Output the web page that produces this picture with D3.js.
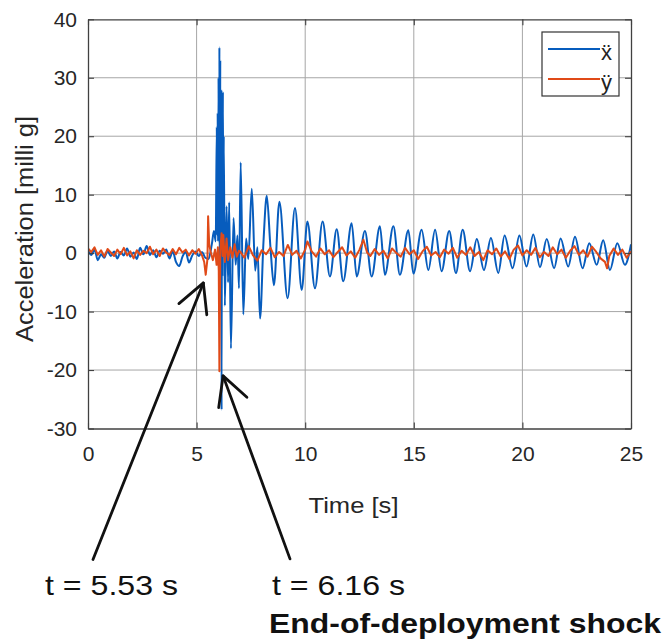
<!DOCTYPE html>
<html>
<head>
<meta charset="utf-8">
<script src="https://cdn.jsdelivr.net/npm/d3@7/dist/d3.min.js"></script>
<style>
  html, body { margin: 0; padding: 0; background: #fff; }
  svg { display: block; font-family: "Liberation Sans", Arial, Helvetica, sans-serif; }
</style>
</head>
<body>
<svg id="chart" width="666" height="642"></svg>
<script>
// ---------- DATA ----------
const xTickValues = [0, 5, 10, 15, 20, 25];
const yTickValues = [-30, -20, -10, 0, 10, 20, 30, 40];
const seriesNames = ["ẍ", "ÿ"];

// x-double-dot (blue): time [s] and acceleration [milli g]
const xddTime = [0,0.15,0.3,0.45,0.6,0.75,0.9,1.05,1.2,1.35,1.5,1.65,1.8,1.95,2.1,2.25,2.4,2.55,2.7,2.85,
  3.0,3.15,3.3,3.45,3.6,3.75,3.9,4.05,4.2,4.35,4.5,4.65,4.8,4.95,5.1,5.25,5.4,5.55,5.7,5.8,5.88,
  5.93,5.95,5.97,5.99,6.01,6.03,6.05,6.07,6.09,6.11,6.13,6.15,6.17,6.19,6.21,6.23,6.25,6.3,
  6.38,6.45,6.5,6.58,6.7,6.8,6.88,6.95,7.03,7.15,7.28,7.38,
  7.54,7.7,7.8,7.92,8.08,8.23,8.4,8.56,8.81,9.19,9.53,9.84,10.1,10.45,10.8,11.14,11.45,11.75,12.14,
  12.37,12.75,13.06,13.44,13.67,14.06,14.36,14.75,14.98,15.36,15.67,15.98,16.28,16.63,16.94,17.25,
  17.59,17.9,18.23,18.55,18.89,19.18,19.55,19.86,20.19,20.5,20.81,21.12,21.46,21.76,22.11,22.42,
  22.77,23.08,23.42,23.72,24.03,24.37,24.72,25];
const xddAcc = [0.5,-0.3,0.6,-1.2,-0.2,-0.8,0.4,-0.5,0.3,-0.9,0.2,-0.4,0.8,-0.6,0.1,-1.0,0.9,-0.2,1.2,-0.3,
  0.5,-0.7,0.4,-0.1,0.6,-0.9,0.3,-1.5,-2.2,-0.6,0.2,-1.6,-0.4,0.3,-0.5,0.2,-0.8,-1.0,1.5,3.8,2.0,
  21.6,3,24,2,30,4,35.2,-10,33,-5,28,-26.8,27,-4,27.6,2,20,-9,
  8.0,-5,8.7,-16.3,6.0,-2,3,-6,15.5,-10.5,2.5,-1,
  11.0,-3,1,-11.2,2,9.8,1,-5.5,8.8,-7.7,7.7,-6.3,5.4,-6.0,5.4,-4.0,4.1,-4.8,5.1,
  -4.0,3.8,-4.0,4.6,-3.7,4.6,-3.7,3.9,-3.5,4.0,-2.9,4.0,-3.1,3.8,-3.4,4.0,
  -3.1,2.4,-2.9,2.6,-3.4,3.0,-2.6,3.0,-2.3,3.2,-2.4,2.4,-2.6,2.5,-2.3,2.8,
  -2.6,1.7,-2.0,2.2,-2.9,1.7,-2.0,1.5];

// y-double-dot (orange): time [s] and acceleration [milli g]
const yddTime = [0,0.15,0.3,0.45,0.6,0.75,0.9,1.05,1.2,1.35,1.5,1.65,1.8,1.95,2.1,2.25,2.4,2.55,2.7,2.85,
  3.0,3.15,3.3,3.45,3.6,3.75,3.9,4.05,4.2,4.35,4.5,4.65,4.8,4.95,5.1,5.25,5.35,5.42,5.5,5.53,5.58,5.65,
  5.75,5.85,5.92,5.98,6.02,6.05,6.09,6.15,6.2,6.23,6.3,6.38,6.45,6.55,6.65,6.75,6.85,6.95,
  7.0,7.2,7.4,7.6,7.8,8.0,8.2,8.4,8.6,8.8,9.0,9.2,9.4,9.6,9.8,10.0,10.1,10.3,10.5,10.7,10.9,
  11.1,11.3,11.5,11.7,11.9,12.1,12.3,12.5,12.68,12.85,13.0,13.2,13.4,13.6,13.8,14.0,14.2,14.4,14.6,14.8,
  15.0,15.2,15.4,15.6,15.8,16.0,16.2,16.4,16.6,16.8,17.0,17.2,17.4,17.6,17.8,18.0,18.2,18.4,18.6,18.8,
  19.0,19.2,19.4,19.6,19.8,20.0,20.2,20.4,20.6,20.8,21.0,21.2,21.4,21.6,21.8,22.0,22.2,22.4,22.6,22.8,
  23.0,23.2,23.4,23.6,23.8,23.9,24.0,24.2,24.4,24.6,24.8,25.0];
const yddAcc = [0.8,0.2,1.0,-0.3,0.5,-0.6,0.7,0.1,-0.5,0.6,-0.2,0.9,-0.4,0.3,-0.9,0.5,-0.3,0.4,0.0,1.1,
  -0.2,0.6,-0.5,0.8,0.1,-0.3,0.7,-0.2,0.9,0.1,0.6,-0.4,0.5,-0.1,0.7,-0.4,-1.5,-3.7,-1.0,6.3,1.5,0.2,
  -1.2,0.6,-2.0,1.0,-3.0,-20.2,0.5,3.4,-0.5,3.1,-1.5,2.5,-1.2,1.0,-0.8,1.5,-0.6,0.4,
  0.3,-0.8,1.2,-0.4,-1.3,0.5,-0.2,0.9,-0.7,0.2,-0.5,1.4,-0.3,0.4,-0.9,0.6,2.0,0.3,-0.6,0.8,-0.2,
  0.5,-0.7,0.2,1.0,-0.4,0.3,-0.8,0.6,2.3,0.1,-0.5,0.7,-0.3,0.4,-0.9,0.8,0.0,-0.6,0.9,-0.2,
  0.5,-1.0,0.3,1.1,-0.4,0.2,-0.7,0.6,-0.1,0.9,-0.8,0.4,-0.3,1.0,-0.5,0.2,-1.2,0.5,-0.2,0.8,
  -0.6,0.3,-1.0,0.6,1.3,-0.4,0.5,-0.3,0.9,-0.7,0.2,-0.5,1.0,-0.2,0.6,-0.8,0.4,1.2,-0.3,0.5,
  -0.6,1.1,0.2,-0.9,-1.5,-2.6,-0.5,0.8,-0.3,0.6,-0.8,0.3];

// annotation arrows (data units: tip and tail)
const annotTips  = [[5.31, -5.1], [6.22, -21.0]];
const annotTails = [[0.23, -52.4], [9.30, -52.3]];
const annotLabels = ["t = 5.53 s", "t = 6.16 s"];
const annotTitle = "End-of-deployment shock";

// ---------- LAYOUT ----------
const svg = d3.select("#chart");
const W = 666, H = 642;
const plot = { left: 88, right: 631, top: 19.3, bottom: 428.5 };
const colors = ["#075cbd", "#e04a18"];

svg.append("rect").attr("width", W).attr("height", H).attr("fill", "#fff");

const x = d3.scaleLinear().domain([0, 25]).range([plot.left, plot.right]);
const y = d3.scaleLinear().domain([-30, 40]).range([plot.bottom, plot.top]);

// grid
const grid = svg.append("g").attr("stroke", "#a6a6a6").attr("stroke-width", 1);
grid.selectAll("line.gx").data(xTickValues.slice(1, -1)).join("line")
  .attr("x1", d => x(d)).attr("x2", d => x(d)).attr("y1", plot.top).attr("y2", plot.bottom);
grid.selectAll("line.gy").data(yTickValues.slice(1, -1)).join("line")
  .attr("x1", plot.left).attr("x2", plot.right).attr("y1", d => y(d)).attr("y2", d => y(d));

// data lines
svg.append("clipPath").attr("id", "clip").append("rect")
  .attr("x", plot.left).attr("y", plot.top)
  .attr("width", plot.right - plot.left).attr("height", plot.bottom - plot.top);

const xddData = xddTime.map((t, i) => [t, xddAcc[i]]);
const yddData = yddTime.map((t, i) => [t, yddAcc[i]]);

const lineSmooth = d3.line().x(d => x(d[0])).y(d => y(d[1])).curve(d3.curveMonotoneX);
const lineRaw = d3.line().x(d => x(d[0])).y(d => y(d[1]));

const lines = svg.append("g").attr("clip-path", "url(#clip)");
lines.append("path").datum(xddData).attr("d", lineSmooth)
  .attr("fill", "none").attr("stroke", colors[0]).attr("stroke-width", 2).attr("stroke-linejoin", "round");
lines.append("path").datum(yddData).attr("d", lineRaw)
  .attr("fill", "none").attr("stroke", colors[1]).attr("stroke-width", 2).attr("stroke-linejoin", "round");

// axes
const fmt = d => String(d);
const axB = svg.append("g").attr("transform", `translate(0,${plot.bottom})`)
  .call(d3.axisBottom(x).tickValues(xTickValues).tickSize(-6).tickPadding(18).tickSizeOuter(0).tickFormat(fmt));
const axL = svg.append("g").attr("transform", `translate(${plot.left},0)`)
  .call(d3.axisLeft(y).tickValues(yTickValues).tickSize(-6).tickPadding(11).tickSizeOuter(0).tickFormat(fmt));
const axT = svg.append("g").attr("transform", `translate(0,${plot.top})`)
  .call(d3.axisTop(x).tickValues(xTickValues).tickSize(-6).tickSizeOuter(0).tickFormat(""));
const axR = svg.append("g").attr("transform", `translate(${plot.right},0)`)
  .call(d3.axisRight(y).tickValues(yTickValues).tickSize(-6).tickSizeOuter(0).tickFormat(""));
[axB, axL, axT, axR].forEach(a => {
  a.select(".domain").attr("stroke", "#404040").attr("stroke-width", 1.3);
  a.selectAll(".tick line").attr("stroke", "#404040").attr("stroke-width", 1.1);
  a.selectAll(".tick text").attr("fill", "#262626").attr("font-size", 21)
    .attr("font-family", "'Liberation Sans', Arial, sans-serif");
});

// axis labels
svg.append("text").attr("x", (plot.left + plot.right) / 2 - 6).attr("y", 513)
  .attr("text-anchor", "middle").attr("font-size", 22).attr("fill", "#262626")
  .attr("textLength", 90).attr("lengthAdjust", "spacingAndGlyphs")
  .text("Time [s]");
svg.append("text").attr("transform", "translate(33,229) rotate(-90)")
  .attr("text-anchor", "middle").attr("font-size", 23).attr("fill", "#262626")
  .attr("textLength", 226).attr("lengthAdjust", "spacingAndGlyphs")
  .text("Acceleration [milli g]");

// legend
const lg = svg.append("g");
lg.append("rect").attr("x", 542).attr("y", 32).attr("width", 77).attr("height", 64)
  .attr("fill", "#fff").attr("stroke", "#333").attr("stroke-width", 1.2);
seriesNames.forEach((name, i) => {
  const ly = 49 + i * 30;
  lg.append("line").attr("x1", 548).attr("x2", 600).attr("y1", ly).attr("y2", ly)
    .attr("stroke", colors[i]).attr("stroke-width", 2);
  lg.append("text").attr("x", 601).attr("y", ly + 11).attr("font-size", 22).attr("fill", "#222")
    .text(name);
});

// annotation arrows
const ann = svg.append("g").attr("stroke", "#111").attr("stroke-width", 2.8)
  .attr("fill", "none").attr("stroke-linecap", "round").attr("stroke-linejoin", "round");
annotTips.forEach((tip, i) => {
  const tx = x(tip[0]), ty = y(tip[1]);
  const sx = x(annotTails[i][0]), sy = y(annotTails[i][1]);
  ann.append("line").attr("x1", sx).attr("y1", sy).attr("x2", tx).attr("y2", ty);
  const ang = Math.atan2(sy - ty, sx - tx);
  const L = 32, spread = 28 * Math.PI / 180;
  const p1 = [tx + L * Math.cos(ang + spread), ty + L * Math.sin(ang + spread)];
  const p2 = [tx + L * Math.cos(ang - spread), ty + L * Math.sin(ang - spread)];
  ann.append("path").attr("d", `M${p1[0]},${p1[1]}L${tx},${ty}L${p2[0]},${p2[1]}`);
});

// annotation texts
const labelX = [45, 272];
annotLabels.forEach((lab, i) => {
  svg.append("text").attr("x", labelX[i]).attr("y", 595).attr("font-size", 28).attr("fill", "#111")
    .attr("textLength", 133).attr("lengthAdjust", "spacingAndGlyphs").text(lab);
});
svg.append("text").attr("x", 269).attr("y", 633).attr("font-size", 27).attr("font-weight", "bold")
  .attr("fill", "#111").attr("textLength", 392).attr("lengthAdjust", "spacingAndGlyphs").text(annotTitle);
</script>
</body>
</html>
